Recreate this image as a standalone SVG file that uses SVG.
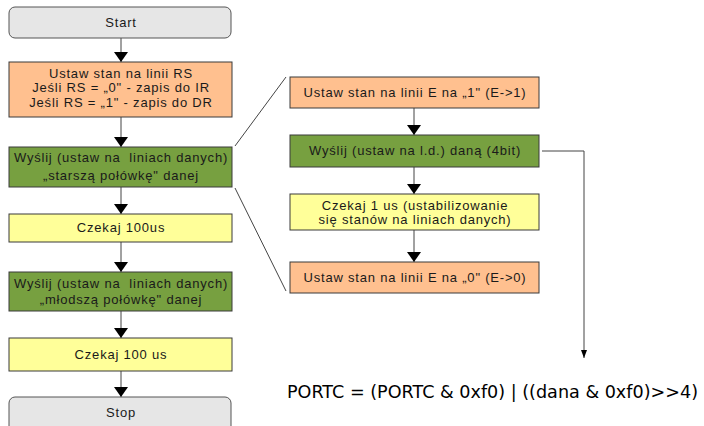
<svg xmlns="http://www.w3.org/2000/svg" width="704" height="426" viewBox="0 0 704 426">
<style>
text{font-family:"Liberation Sans",Arial,sans-serif;font-size:13px;letter-spacing:0.8px;fill:#1a1a1a;text-anchor:middle}
.term{fill:#e6e6e6;stroke:#555;stroke-width:1}
.or{fill:#ffc08f;stroke:#3a3a3a;stroke-width:1}
.gr{fill:#77a040;stroke:#3a3a3a;stroke-width:1}
.ye{fill:#ffff99;stroke:#3a3a3a;stroke-width:1}
.c{stroke:#444;stroke-width:1;fill:none}
.code{font-family:"DejaVu Sans",Verdana,sans-serif;font-size:17px;letter-spacing:0;fill:#000;text-anchor:start}
</style>
<defs>
<marker id="ah" viewBox="0 0 10 14" refX="10" refY="7" markerWidth="10" markerHeight="14" markerUnits="userSpaceOnUse" orient="auto"><path d="M0,0 L10,7 L0,14 Z" fill="#000"/></marker>
<marker id="as" viewBox="0 0 8 6" refX="8" refY="3" markerWidth="8" markerHeight="6" markerUnits="userSpaceOnUse" orient="auto"><path d="M0,0 L8,3 L0,6 Z" fill="#000"/></marker>
</defs>
<g id="connectors">
<line class="c" x1="121" y1="38" x2="121" y2="62" marker-end="url(#ah)"/>
<line class="c" x1="121" y1="117" x2="121" y2="147" marker-end="url(#ah)"/>
<line class="c" x1="121" y1="187" x2="121" y2="214" marker-end="url(#ah)"/>
<line class="c" x1="121" y1="242" x2="121" y2="272" marker-end="url(#ah)"/>
<line class="c" x1="121" y1="311" x2="121" y2="338" marker-end="url(#ah)"/>
<line class="c" x1="121" y1="371" x2="121" y2="397" marker-end="url(#ah)"/>
<line class="c" x1="414" y1="108" x2="414" y2="135" marker-end="url(#ah)"/>
<line class="c" x1="414" y1="167" x2="414" y2="194" marker-end="url(#ah)"/>
<line class="c" x1="414" y1="230" x2="414" y2="262" marker-end="url(#ah)"/>
<polyline class="c" points="542,151 584,151 584,358" marker-end="url(#as)"/>
<line class="c" x1="235" y1="146" x2="286" y2="77"/>
<line class="c" x1="235" y1="188" x2="286" y2="291"/>
</g>
<g id="start"><rect class="term" x="9" y="7" width="222" height="31" rx="6"/><text x="121" y="27">Start</text></g>
<g id="set-rs"><rect class="or" x="9" y="62" width="223" height="55"/>
<text x="121" y="78">Ustaw stan na linii RS</text>
<text x="121" y="92">Jeśli RS = „0" - zapis do IR</text>
<text x="121" y="107">Jeśli RS = „1" - zapis do DR</text></g>
<g id="send-high"><rect class="gr" x="9" y="147" width="223" height="40"/>
<text x="121" y="162" xml:space="preserve">Wyślij (ustaw na  liniach danych)</text>
<text x="121" y="180">„starszą połówkę" danej</text></g>
<g id="wait1"><rect class="ye" x="9" y="214" width="223" height="28"/><text x="121" y="232">Czekaj 100us</text></g>
<g id="send-low"><rect class="gr" x="9" y="272" width="223" height="39"/>
<text x="121" y="288" xml:space="preserve">Wyślij (ustaw na  liniach danych)</text>
<text x="121" y="304">„młodszą połówkę" danej</text></g>
<g id="wait2"><rect class="ye" x="9" y="338" width="223" height="33"/><text x="121" y="359">Czekaj 100 us</text></g>
<g id="stop"><rect class="term" x="9" y="397" width="222" height="36" rx="6"/><text x="121" y="417">Stop</text></g>
<g id="e1"><rect class="or" x="290" y="77" width="249" height="31"/><text x="415" y="97">Ustaw stan na linii E na „1" (E-&gt;1)</text></g>
<g id="send4"><rect class="gr" x="290" y="135" width="249" height="32"/><text x="415" y="155">Wyślij (ustaw na l.d.) daną (4bit)</text></g>
<g id="wait3"><rect class="ye" x="290" y="194" width="249" height="36"/>
<text x="415" y="210">Czekaj 1 us (ustabilizowanie</text>
<text x="415" y="224">się stanów na liniach danych)</text></g>
<g id="e0"><rect class="or" x="290" y="262" width="249" height="31"/><text x="415" y="282">Ustaw stan na linii E na „0" (E-&gt;0)</text></g>
<g id="code"><text class="code" x="287" y="398" textLength="411" lengthAdjust="spacingAndGlyphs">PORTC = (PORTC &amp; 0xf0) | ((dana &amp; 0xf0)&gt;&gt;4)</text></g>
</svg>
